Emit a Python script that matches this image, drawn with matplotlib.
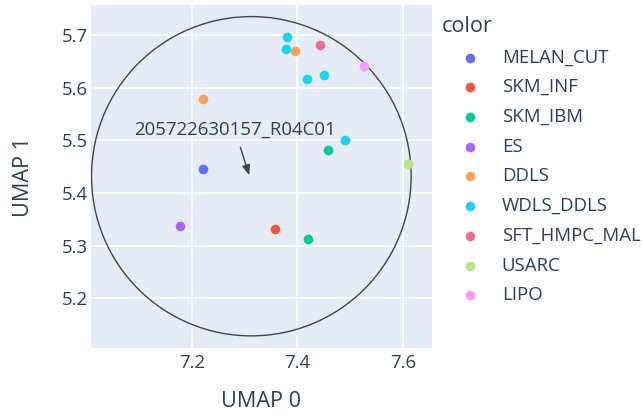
import matplotlib
matplotlib.use("Agg")
import matplotlib.pyplot as plt
from matplotlib.patches import Ellipse

plt.rcParams['font.family'] = ['Open Sans', 'DejaVu Sans']

# samples per group
groups = ["MELAN_CUT", "SKM_INF", "SKM_IBM", "ES", "DDLS",
          "WDLS_DDLS", "SFT_HMPC_MAL", "USARC", "LIPO"]
umap0 = {
    "MELAN_CUT": [7.221],
    "SKM_INF": [7.357],
    "SKM_IBM": [7.459, 7.420],
    "ES": [7.178],
    "DDLS": [7.396, 7.221],
    "WDLS_DDLS": [7.381, 7.379, 7.419, 7.450, 7.491],
    "SFT_HMPC_MAL": [7.443],
    "USARC": [7.611],
    "LIPO": [7.527],
}
umap1 = {
    "MELAN_CUT": [5.446],
    "SKM_INF": [5.332],
    "SKM_IBM": [5.481, 5.313],
    "ES": [5.337],
    "DDLS": [5.669, 5.578],
    "WDLS_DDLS": [5.697, 5.674, 5.616, 5.624, 5.501],
    "SFT_HMPC_MAL": [5.681],
    "USARC": [5.456],
    "LIPO": [5.642],
}
palette = ["#636EFA", "#EF553B", "#00CC96", "#AB63FA", "#FFA15A",
           "#19D3F3", "#FF6692", "#B6E880", "#FF97FF"]

target_name = "205722630157_R04C01"
target_xy = (7.309, 5.434)
circle_center = (7.313, 5.432)
circle_radius = 0.303

txt = "#2a3f5f"
small = 13.4
big = 15.6

fig = plt.figure(figsize=(6.42, 4.19), dpi=100)
ax = fig.add_axes([91 / 642, 1 - 348 / 419, (431.7 - 91) / 642, (348 - 5) / 419])
ax.set_facecolor("#E5ECF6")
for s in ax.spines.values():
    s.set_visible(False)
ax.grid(True, color="white", linewidth=1.2)
ax.set_axisbelow(True)

for g, c in zip(groups, palette):
    ax.scatter(umap0[g], umap1[g], s=48, color=c, label=g, linewidths=0, zorder=3)

ax.add_patch(Ellipse(circle_center, 2 * circle_radius, 2 * circle_radius,
                     fill=False, edgecolor="#444444", linewidth=1, zorder=2))

ax.annotate(target_name, xy=target_xy, xytext=(-10.3, 32.5),
            textcoords="offset points", ha="center", va="center",
            fontsize=small, color=txt,
            arrowprops=dict(arrowstyle="-|>,head_length=0.45,head_width=0.18",
                            color="#444444", lw=1, shrinkA=4, shrinkB=0))

ax.set_xlim(7.009, 7.655)
ax.set_ylim(5.106, 5.757)
ax.set_xticks([7.2, 7.4, 7.6])
ax.set_yticks([5.2, 5.3, 5.4, 5.5, 5.6, 5.7])
ax.tick_params(length=0, labelsize=small, labelcolor=txt)
ax.tick_params(axis="x", pad=4)
ax.tick_params(axis="y", pad=2)
ax.set_xlabel("UMAP 0", fontsize=big, color=txt, labelpad=14)
ax.set_ylabel("UMAP 1", fontsize=big, color=txt, labelpad=20.5)

leg = ax.legend(loc="upper left", bbox_to_anchor=(438 / 642, 1 - 12 / 419),
                bbox_transform=fig.transFigure, frameon=False, title="color",
                fontsize=small, title_fontsize=big, handlelength=3.0,
                handletextpad=0.22, labelspacing=0.63, alignment="left",
                borderaxespad=0, borderpad=0.2)
for t in leg.get_texts():
    t.set_color(txt)
leg.get_title().set_color(txt)

fig.savefig("out.png", dpi=100)
